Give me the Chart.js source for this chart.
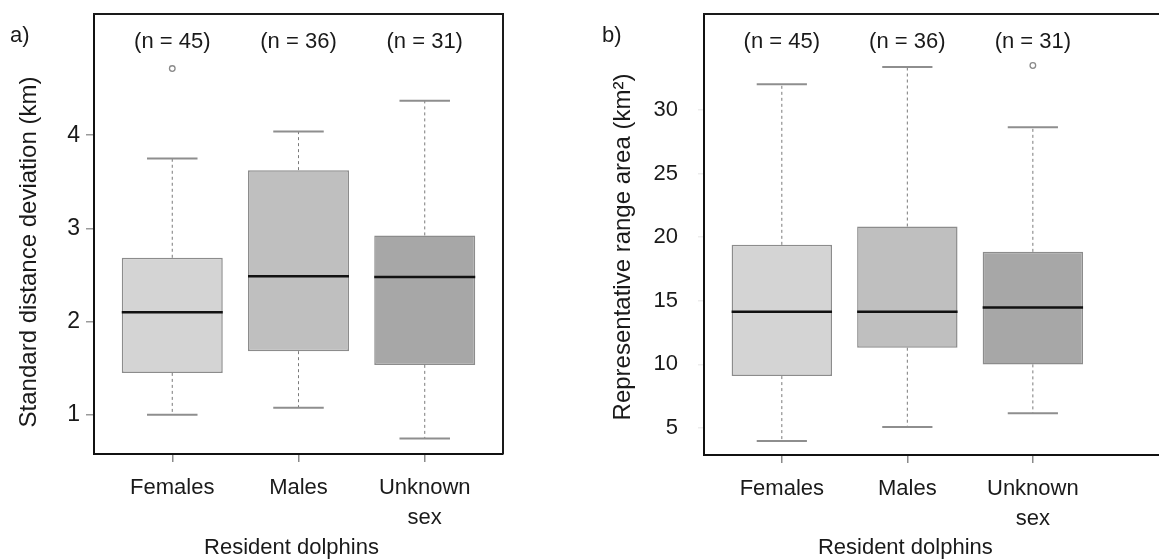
<!DOCTYPE html>
<html><head><meta charset="utf-8">
<script src="https://cdn.jsdelivr.net/npm/chart.js@4.4.0/dist/chart.umd.min.js"></script>
<style>
html,body{margin:0;padding:0;background:#fff;overflow:hidden;width:1159px;height:560px}
#wrap{position:relative;width:1159px;height:560px;overflow:hidden;background:#fff}
.p{position:absolute;top:0;height:560px}
#pa{left:0;width:580px}
#pb{left:580px;width:579px}
canvas{display:block}
</style></head><body>
<div id="wrap"><div class="p" id="pa"><canvas id="ca" width="580" height="560"></canvas></div><div class="p" id="pb"><canvas id="cb" width="579" height="560"></canvas></div></div>
<script>
// ---- data ----
const categories = [['Females'], ['Males'], ['Unknown', 'sex']];
const sampleSizes = [45, 36, 31];
const boxColors = ['#d4d4d4', '#bfbfbf', '#a7a7a7'];

// panel a: standard distance deviation (km)
const sddLowerWhisker = [1.00, 1.075, 0.745];
const sddQ1 = [1.45, 1.683, 1.536];
const sddMedian = [2.10, 2.486, 2.48];
const sddQ3 = [2.685, 3.625, 2.925];
const sddUpperWhisker = [3.75, 4.04, 4.37];
const sddOutliers = [[4.715], [], []];
const sddTicks = [1, 2, 3, 4];

// panel b: representative range area (km2)
const rraLowerWhisker = [3.98, 5.08, 6.16];
const rraQ1 = [9.08, 11.31, 10.0];
const rraMedian = [14.13, 14.13, 14.48];
const rraQ3 = [19.4, 20.84, 18.85];
const rraUpperWhisker = [32.02, 33.38, 28.64];
const rraOutliers = [[], [], [33.5]];
const rraTicks = [5, 10, 15, 20, 25, 30];

const FONT = "'Liberation Sans', Arial, sans-serif";
const TXT = '#1a1a1a';

function makePanel(canvasId, p) {
  const boxData = p.q1.map((q, i) => ({ x: i + 1, y: [q, p.q3[i]] }));
  const boxPlugin = {
    id: 'box' + canvasId,
    afterDatasetsDraw(chart) {
      const { ctx, chartArea: ca, scales: { x: xs, y: ys } } = chart;
      const half = (xs.getPixelForValue(1.4) - xs.getPixelForValue(1));
      const capHalf = half / 2;
      ctx.save();
      for (let i = 0; i < p.q1.length; i++) {
        const cx = xs.getPixelForValue(i + 1);
        // dashed whiskers
        ctx.strokeStyle = '#7a7a7a';
        ctx.lineWidth = 1;
        ctx.setLineDash([3, 3]);
        ctx.beginPath();
        ctx.moveTo(cx, ys.getPixelForValue(p.q3[i]));
        ctx.lineTo(cx, ys.getPixelForValue(p.hi[i]));
        ctx.moveTo(cx, ys.getPixelForValue(p.q1[i]));
        ctx.lineTo(cx, ys.getPixelForValue(p.lo[i]));
        ctx.stroke();
        ctx.setLineDash([]);
        // caps
        ctx.strokeStyle = '#8e8e8e';
        ctx.lineWidth = 2;
        ctx.beginPath();
        const yh = ys.getPixelForValue(p.hi[i]);
        const yl = ys.getPixelForValue(p.lo[i]);
        ctx.moveTo(cx - capHalf, yh); ctx.lineTo(cx + capHalf, yh);
        ctx.moveTo(cx - capHalf, yl); ctx.lineTo(cx + capHalf, yl);
        ctx.stroke();
        // median
        ctx.strokeStyle = '#111';
        ctx.lineWidth = 2.5;
        ctx.beginPath();
        const ym = ys.getPixelForValue(p.med[i]);
        ctx.moveTo(cx - half, ym); ctx.lineTo(cx + half, ym);
        ctx.stroke();
        // outliers
        ctx.strokeStyle = '#8a8a8a';
        ctx.lineWidth = 1.3;
        p.out[i].forEach(v => {
          ctx.beginPath();
          ctx.arc(cx, ys.getPixelForValue(v), 2.8, 0, Math.PI * 2);
          ctx.stroke();
        });
      }
      // frame
      ctx.strokeStyle = '#1a1a1a';
      ctx.lineWidth = 2;
      ctx.beginPath();
      ctx.moveTo(ca.left - 1, ca.top);
      ctx.lineTo(ca.right + (p.rightBorder ? 1 : 2), ca.top);
      if (p.rightBorder) {
        ctx.moveTo(ca.right, ca.top);
        ctx.lineTo(ca.right, ca.bottom);
      }
      ctx.stroke();
      ctx.restore();
    },
    afterDraw(chart) {
      const { ctx, scales: { x: xs } } = chart;
      ctx.save();
      ctx.fillStyle = TXT;
      ctx.textAlign = 'center';
      ctx.textBaseline = 'middle';
      ctx.font = '22px ' + FONT;
      sampleSizes.forEach((n, i) => {
        ctx.fillText('(n = ' + n + ')', xs.getPixelForValue(i + 1), 42);
      });
      ctx.textAlign = 'left';
      ctx.fillText(p.letter, p.letterX, 36);
      ctx.textAlign = 'center';
      ctx.fillText('Resident dolphins', xs.getPixelForValue(2) + p.xTitleDx, 548);
      ctx.font = '24px ' + FONT;
      ctx.translate(p.yTitleX, p.yTitleY);
      ctx.rotate(-Math.PI / 2);
      ctx.fillText(p.yTitle, 0, 0);
      ctx.restore();
    }
  };

  return new Chart(document.getElementById(canvasId), {
    type: 'bar',
    data: {
      datasets: [{
        data: boxData,
        backgroundColor: boxColors,
        borderColor: '#8c8c8c',
        borderWidth: 1.5,
        borderSkipped: false,
        barPercentage: 0.8,
        categoryPercentage: 1.0
      }]
    },
    options: {
      responsive: false,
      animation: false,
      devicePixelRatio: 1,
      layout: { padding: { left: 0, top: 14, right: p.padRight, bottom: 0 } },
      plugins: { legend: { display: false }, tooltip: { enabled: false } },
      scales: {
        x: {
          type: 'linear', min: 0.38, max: p.xMax, offset: false,
          afterBuildTicks: s => { s.ticks = [1, 2, 3].map(v => ({ value: v })); },
          afterFit: s => { s.height = p.xAxisH; s.paddingLeft = 0; s.paddingRight = 0; },
          ticks: {
            callback: (v, i) => categories[i],
            font: { family: FONT, size: 22, lineHeight: 1.36 },
            color: TXT, padding: 11, maxRotation: 0, autoSkip: false
          },
          grid: { display: true, drawOnChartArea: false, drawTicks: true, tickLength: 8, color: '#8a8a8a', lineWidth: 1.5, offset: false },
          border: { display: true, color: '#111', width: 2 }
        },
        y: {
          type: 'linear', min: p.yMin, max: p.yMax,
          afterBuildTicks: s => { s.ticks = p.ticks.map(v => ({ value: v })); },
          afterFit: s => { s.width = p.yAxisW; s.paddingTop = 0; s.paddingBottom = 0; },
          ticks: {
            font: { family: FONT, size: p.tickSize },
            color: TXT, padding: p.tickPad
          },
          grid: { display: true, drawOnChartArea: false, drawTicks: true, tickLength: p.tickLen, color: p.tickColor, lineWidth: 1.5 },
          border: { display: true, color: '#111', width: 2 }
        }
      }
    },
    plugins: [boxPlugin]
  });
}

makePanel('ca', {
  q1: sddQ1, q3: sddQ3, med: sddMedian, lo: sddLowerWhisker, hi: sddUpperWhisker, out: sddOutliers,
  ticks: sddTicks, yMin: 0.58, yMax: 5.30, xMax: 3.62,
  padRight: 77, yAxisW: 94, xAxisH: 106, tickSize: 23, tickPad: 6, tickLen: 8, tickColor: '#9a9a9a',
  rightBorder: true, letter: 'a)', letterX: 10, xTitleDx: -7,
  yTitle: 'Standard distance deviation (km)', yTitleX: 29, yTitleY: 252
});

makePanel('cb', {
  q1: rraQ1, q3: rraQ3, med: rraMedian, lo: rraLowerWhisker, hi: rraUpperWhisker, out: rraOutliers,
  ticks: rraTicks, yMin: 2.875, yMax: 37.55, xMax: 4.005,
  padRight: 0, yAxisW: 124, xAxisH: 105, tickSize: 22, tickPad: 20, tickLen: 6, tickColor: '#ececec',
  rightBorder: false, letter: 'b)', letterX: 22, xTitleDx: -2,
  yTitle: 'Representative range area (km²)', yTitleX: 43, yTitleY: 247
});
</script>
</body></html>
